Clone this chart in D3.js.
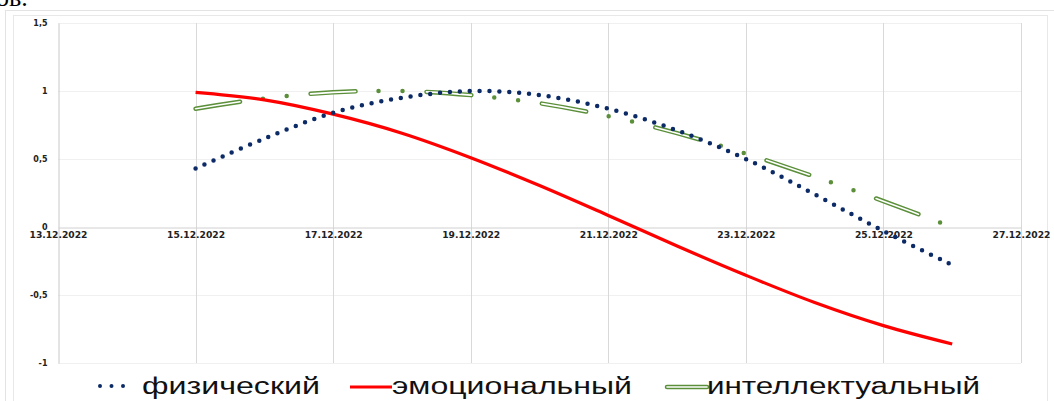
<!DOCTYPE html>
<html>
<head>
<meta charset="utf-8">
<script src="https://cdn.jsdelivr.net/npm/d3@7"></script>
<style>
  body { margin: 0; background: #fff; }
  svg { display: block; }
</style>
</head>
<body>
<svg id="chart"></svg>
<script>
// data
const days = ["15.12.2022", "16.12.2022", "17.12.2022", "18.12.2022", "19.12.2022", "20.12.2022",
              "21.12.2022", "22.12.2022", "23.12.2022", "24.12.2022", "25.12.2022", "26.12.2022"];
const physical = [0.43, 0.65, 0.84, 0.95, 1.0, 0.97, 0.87, 0.71, 0.50, 0.24, -0.03, -0.28];
const emotional = [0.99, 0.935, 0.83, 0.69, 0.51, 0.305, 0.085, -0.14, -0.355, -0.555, -0.725, -0.86];
const intellectual = [0.87, 0.945, 0.99, 1.0, 0.97, 0.91, 0.815, 0.69, 0.54, 0.37, 0.19, 0.0];
const dateTicks = ["13.12.2022", "15.12.2022", "17.12.2022", "19.12.2022", "21.12.2022",
                   "23.12.2022", "25.12.2022", "27.12.2022"];
const yTicks = [-1, -0.5, 0, 0.5, 1, 1.5];
const seriesNames = ["физический", "эмоциональный", "интеллектуальный"];

const W = 1054, H = 401;
const parse = d3.timeParse("%d.%m.%Y");

const svg = d3.select("#chart").attr("width", W).attr("height", H);

// bit of document text cut off at the top
svg.append("text").text("ов.")
    .attr("x", -4).attr("y", 6)
    .attr("font-family", "Liberation Serif").attr("font-size", 26)
    .attr("fill", "#000");

// chart frame
svg.append("rect").attr("x", 5.5).attr("y", 10.5).attr("width", 1060).attr("height", 400)
    .attr("fill", "none").attr("stroke", "#e3e3e3");
svg.append("rect").attr("x", 13.5).attr("y", 15.5).attr("width", 1034).attr("height", 400)
    .attr("fill", "none").attr("stroke", "#e8e8e8");

const x = d3.scaleTime()
    .domain([parse(dateTicks[0]), parse(dateTicks[dateTicks.length - 1])])
    .range([58, 1021]);
const y = d3.scaleLinear().domain([-1, 1.5]).range([363, 23]);

// horizontal grid
svg.append("g").selectAll("line")
    .data(yTicks.filter(d => d !== 0))
    .enter().append("line")
    .attr("x1", 58).attr("x2", 1021)
    .attr("y1", d => Math.round(y(d)) + 0.5).attr("y2", d => Math.round(y(d)) + 0.5)
    .attr("stroke", "#f0f0f0");

// vertical grid
svg.append("g").selectAll("line")
    .data(dateTicks.slice(1))
    .enter().append("line")
    .attr("x1", d => Math.round(x(parse(d))) + 0.5).attr("x2", d => Math.round(x(parse(d))) + 0.5)
    .attr("y1", 23).attr("y2", 363)
    .attr("stroke", "#d9d9d9");

// y axis
const yAxis = svg.append("g")
    .attr("transform", "translate(58.5,0)")
    .call(d3.axisLeft(y).tickValues(yTicks).tickSize(0).tickPadding(11)
        .tickFormat(d => String(d).replace(".", ",")));
yAxis.select(".domain").attr("stroke", "#c8c8c8");
yAxis.selectAll("text")
    .attr("font-family", "DejaVu Sans").attr("font-weight", "bold")
    .attr("font-size", 8).attr("fill", "#222");

// zero line with date labels
const xAxis = svg.append("g")
    .attr("transform", `translate(0,${Math.round(y(0)) + 0.5})`)
    .call(d3.axisBottom(x).tickValues(dateTicks.map(parse)).tickSize(0).tickPadding(5)
        .tickFormat(d3.timeFormat("%d.%m.%Y")));
xAxis.select(".domain").attr("stroke", "#d0d0d0");
xAxis.selectAll("text")
    .attr("font-family", "DejaVu Sans").attr("font-weight", "bold")
    .attr("font-size", 8).attr("fill", "#222")
    .attr("textLength", 58).attr("lengthAdjust", "spacingAndGlyphs");

const lineFun = d3.line()
    .x((d, i) => x(parse(days[i])))
    .y(d => y(d))
    .curve(d3.curveCatmullRom);

// intellectual: double-line long dash + two dots
svg.append("path")
    .attr("d", lineFun(intellectual))
    .attr("fill", "none").attr("stroke", "#5b8f3a")
    .attr("stroke-width", 4.5).attr("stroke-linecap", "round")
    .attr("stroke-dasharray", "45 23 0 24 0 24");
svg.append("path")
    .attr("d", lineFun(intellectual))
    .attr("fill", "none").attr("stroke", "#ffffff")
    .attr("stroke-width", 1.6).attr("stroke-linecap", "round")
    .attr("stroke-dasharray", "45 71");

// emotional: solid red
svg.append("path")
    .attr("d", lineFun(emotional))
    .attr("fill", "none").attr("stroke", "#ff0000")
    .attr("stroke-width", 3.2);

// physical: round dots
svg.append("path")
    .attr("d", lineFun(physical))
    .attr("fill", "none").attr("stroke", "#0b2a66")
    .attr("stroke-width", 4.5).attr("stroke-linecap", "round")
    .attr("stroke-dasharray", "0 9.9");

// legend
const legend = svg.append("g");
legend.append("line")
    .attr("x1", 100).attr("x2", 124).attr("y1", 386).attr("y2", 386)
    .attr("stroke", "#0b2a66").attr("stroke-width", 4).attr("stroke-linecap", "round")
    .attr("stroke-dasharray", "0 11.5");
legend.append("line")
    .attr("x1", 350).attr("x2", 392).attr("y1", 387).attr("y2", 387)
    .attr("stroke", "#ff0000").attr("stroke-width", 3.2);
legend.append("line")
    .attr("x1", 667).attr("x2", 707).attr("y1", 387).attr("y2", 387)
    .attr("stroke", "#5b8f3a").attr("stroke-width", 4.5).attr("stroke-linecap", "round");
legend.append("line")
    .attr("x1", 667).attr("x2", 707).attr("y1", 387).attr("y2", 387)
    .attr("stroke", "#ffffff").attr("stroke-width", 1.6).attr("stroke-linecap", "round");

const legendText = [
    {x: 142, w: 178},
    {x: 392, w: 240},
    {x: 707, w: 273}
];
legend.selectAll("text")
    .data(seriesNames)
    .enter().append("text")
    .text(d => d)
    .attr("x", (d, i) => legendText[i].x)
    .attr("y", 394)
    .attr("font-family", "Liberation Sans").attr("font-size", 23)
    .attr("fill", "#111")
    .attr("textLength", (d, i) => legendText[i].w)
    .attr("lengthAdjust", "spacingAndGlyphs");
</script>
</body>
</html>
